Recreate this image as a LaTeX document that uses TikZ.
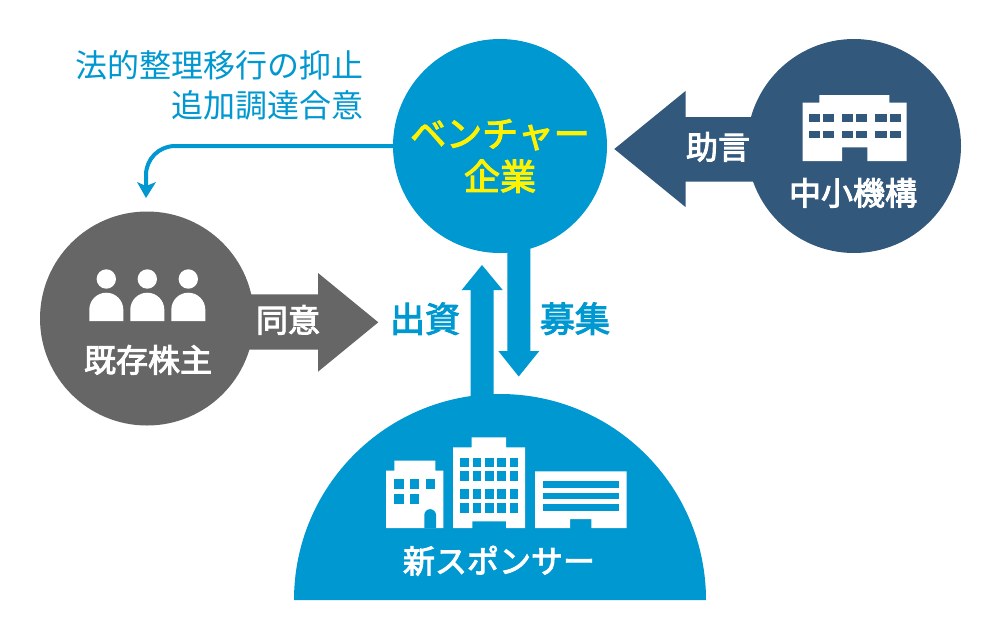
\documentclass[tikz,border=0pt]{standalone}
\usepackage{fontspec}
\newfontfamily\jp{Noto Sans CJK JP}[FakeBold=3]
\newfontfamily\jpreg{Noto Sans CJK JP}
\usetikzlibrary{arrows.meta}
\definecolor{skyb}{HTML}{0098D1}
\definecolor{navyb}{HTML}{32587C}
\definecolor{grayb}{HTML}{666666}
\tikzset{
  disc/.style={circle,minimum size=214pt,inner sep=0pt,outer sep=0pt,fill=#1},
  lbl/.style={inner sep=0pt,outer sep=0pt,anchor=base,text=white,font=\jp\fontsize{32}{32}\selectfont},
  bluelbl/.style={lbl,text=skyb,font=\jp\fontsize{35}{35}\selectfont},
  notelbl/.style={inner sep=0pt,outer sep=0pt,anchor=base east,text=skyb,font=\jpreg\fontsize{32}{32}\selectfont},
  yellowlbl/.style={lbl,text=yellow,font=\jp\fontsize{36}{36}\selectfont},
  iconw/.style={fill=white,draw=none}
}
\begin{document}
\begin{tikzpicture}[x=1pt,y=-1pt]
\useasboundingbox (0,0) rectangle (1000,640);
\fill[white] (0,0) rectangle (1000,640);
\node[disc=skyb] (venture) at (500,146) {};
\node[disc=navyb] (kiko) at (854,146) {};
\node[disc=grayb] (kabu) at (147,318.5) {};
\fill[skyb] (294,600) arc[start angle=180,end angle=360,radius=206] -- cycle;
\fill[navyb] (614.3,149) -- (685.5,91) -- (685.5,117) -- (760,117) -- (760,181.7) -- (685.5,181.7) -- (685.5,207) -- cycle;
\fill[grayb] (240,294.3) -- (318,294.3) -- (318,273) -- (378.3,322.3) -- (318,371.7) -- (318,349.7) -- (240,349.7) -- cycle;
\fill[skyb] (482,265) -- (502.7,290) -- (493.5,290) -- (493.5,400) -- (470.5,400) -- (470.5,290) -- (461.7,290) -- cycle;
\fill[skyb] (507.3,245) -- (530.3,245) -- (530.3,351) -- (539.3,351) -- (518.7,376.5) -- (498.3,351) -- (507.3,351) -- cycle;
\coordinate (curvetip) at (146,198);
\draw[skyb,line width=4pt] (venture.west) -- (175,146) arc[start angle=-90,end angle=-180,radius=29] -- (146,186);
\fill[skyb] (curvetip) -- (137,182) -- (146,186) -- (156,182) -- cycle;
\fill[iconw] (802.7,161) -- (802.7,102.7) -- (819.3,102.7) -- (819.3,95) -- (889.3,95) -- (889.3,102.7) -- (906.7,102.7) -- (906.7,161) -- (867.3,161) -- (867.3,147.3) -- (842,147.3) -- (842,161) -- cycle;
\foreach \a/\b in {809/820,823.3/834.3,842/853.3,856.3/867.3,875.3/886.7,889.7/900.7}{
  \fill[navyb] (\a,114) rectangle (\b,121.7);
  \fill[navyb] (\a,130.7) rectangle (\b,138.3);
}
\foreach \c in {106.3,147.3,188.3}{
  \fill[iconw] (\c,279) circle[radius=9.7];
  \fill[iconw] (\c-17,321) -- (\c-17,309.7) arc[start angle=180,end angle=360,radius=17] -- (\c+17,321) -- cycle;
}
\fill[iconw] (386,528) -- (386,470.7) -- (394.3,470.7) -- (394.3,460.7) -- (435.3,460.7) -- (435.3,470.7) -- (443.3,470.7) -- (443.3,528) -- cycle;
\fill[skyb] (424.3,528) -- (424.3,515) arc[start angle=180,end angle=360,radius=5.85] -- (436,528) -- cycle;
\foreach \a/\b in {394.3/403.7,410/419.3,425.7/435}{\fill[skyb] (\a,479.3) rectangle (\b,488.7);}
\foreach \a/\b in {394.3/403.7,410/419.3}{\fill[skyb] (\a,494) rectangle (\b,503.7);}
\fill[iconw] (453,528) -- (453,447.3) -- (471.7,447.3) -- (471.7,437.3) -- (506,437.3) -- (506,447.3) -- (525,447.3) -- (525,528) -- (506,528) -- (506,521.3) -- (472.3,521.3) -- (472.3,528) -- cycle;
\foreach \a/\b in {460/468.7,472.7/481,485/493.7,497.3/506,510/518.3}{
  \fill[skyb] (\a,457.7) rectangle (\b,467.3);
  \fill[skyb] (\a,471) rectangle (\b,481.3);
  \fill[skyb] (\a,489.3) rectangle (\b,499.3);
  \fill[skyb] (\a,502.7) rectangle (\b,512.7);
}
\fill[iconw] (535,528) -- (535,471.3) -- (626.7,471.3) -- (626.7,528) -- (591.3,528) -- (591.3,519) -- (570,519) -- (570,528) -- cycle;
\foreach \a/\b in {481.3/487.7,492.7/499.3,504.3/510.7}{\fill[skyb] (542.7,\a) rectangle (618.7,\b);}
\node[notelbl] (note1) at (363.5,77) {法的整理移行の抑止};
\node[notelbl] (note2) at (363.5,117.5) {追加調達合意};
\node[yellowlbl] (v1) at (500,147) {ベンチャー};
\node[yellowlbl] (v2) at (500,190) {企業};
\node[lbl] (k) at (853,205) {中小機構};
\node[lbl] (adv) at (718,159) {助言};
\node[lbl] (ka) at (148,372) {既存株主};
\node[lbl] (agree) at (288,332) {同意};
\node[bluelbl] (inv) at (425,332) {出資};
\node[bluelbl] (rec) at (575,332) {募集};
\node[lbl] (sp) at (499,573) {新スポンサー};
\end{tikzpicture}
\end{document}
